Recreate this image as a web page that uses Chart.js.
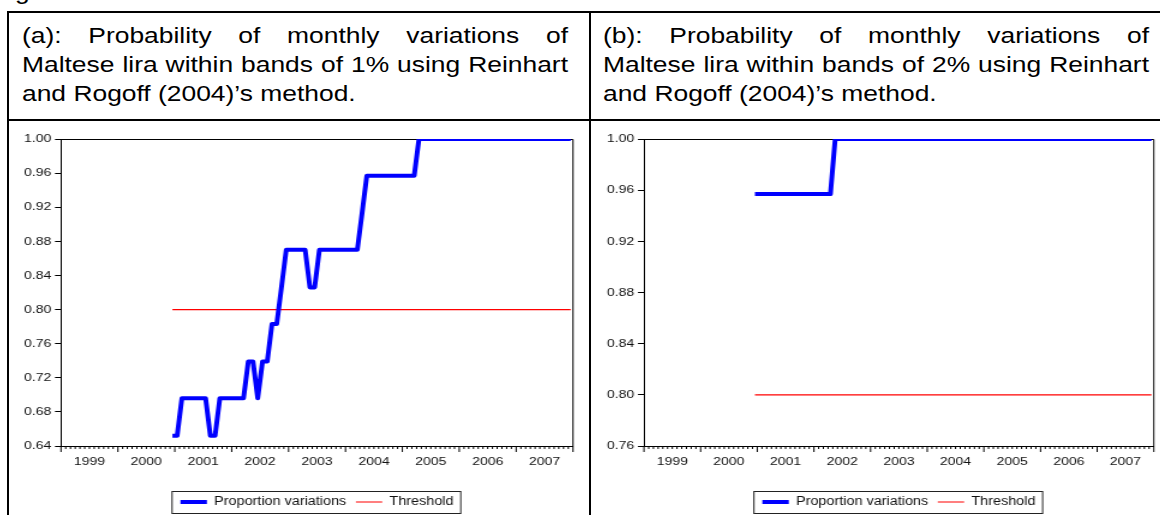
<!DOCTYPE html>
<html>
<head>
<meta charset="utf-8">
<script src="https://cdn.jsdelivr.net/npm/chart.js@4.4.1/dist/chart.umd.min.js"></script>
<style>
html,body{margin:0;padding:0;width:1160px;height:515px;overflow:hidden;background:#fff;font-family:"Liberation Sans",Arial,sans-serif;}
.abs{position:absolute;}
#frame{left:7px;top:11px;width:1200px;height:600px;border:2px solid #000;box-sizing:border-box;}
#hline{left:7px;top:119px;width:1200px;height:2px;background:#000;}
#vline{left:589px;top:11px;width:2px;height:600px;background:#000;}
.title{font-size:22px;line-height:29px;color:#000;transform:scaleX(1.2);transform-origin:0 0;width:455px;}
.j{text-align:justify;text-align-last:justify;}
.l{text-align:left;}
canvas{position:absolute;}
</style>
</head>
<body>
<div class="abs title" style="left:-7px;top:-23px;">Figure</div>
<div id="frame" class="abs"></div>
<div id="hline" class="abs"></div>
<div id="vline" class="abs"></div>
<div class="abs title" style="left:22px;top:21px;">
  <div class="j">(a): Probability of monthly variations of</div>
  <div class="j">Maltese lira within bands of 1% using Reinhart</div>
  <div class="l">and Rogoff (2004)’s method.</div>
</div>
<div class="abs title" style="left:603px;top:21px;">
  <div class="j">(b): Probability of monthly variations of</div>
  <div class="j">Maltese lira within bands of 2% using Reinhart</div>
  <div class="l">and Rogoff (2004)’s method.</div>
</div>
<canvas id="ca" width="483" height="420" style="left:9px;top:121px;width:580px;height:420px;"></canvas>
<canvas id="cb" width="483" height="420" style="left:591px;top:121px;width:580px;height:420px;"></canvas>
<script>
// ---- data (monthly, 2000M12 .. 2007M12) ----
const firstYear = 2000, firstMonth = 12;
const seriesNames = ['Proportion variations', 'Threshold'];
const yearLabels = ['1999','2000','2001','2002','2003','2004','2005','2006','2007'];

const propA = [
  0.652,                                                             // 2000 Dec
  0.652,0.696,0.696,0.696,0.696,0.696,0.696,0.652,0.652,0.696,0.696,0.696, // 2001
  0.696,0.696,0.696,0.739,0.739,0.696,0.739,0.739,0.783,0.783,0.826,0.870, // 2002
  0.870,0.870,0.870,0.870,0.826,0.826,0.870,0.870,0.870,0.870,0.870,0.870, // 2003
  0.870,0.870,0.870,0.913,0.957,0.957,0.957,0.957,0.957,0.957,0.957,0.957, // 2004
  0.957,0.957,0.957,1.000,1.000,1.000,1.000,1.000,1.000,1.000,1.000,1.000, // 2005
  1.000,1.000,1.000,1.000,1.000,1.000,1.000,1.000,1.000,1.000,1.000,1.000, // 2006
  1.000,1.000,1.000,1.000,1.000,1.000,1.000,1.000,1.000,1.000,1.000,1.000  // 2007
];
const propB = [
  0.957,                                                             // 2000 Dec
  0.957,0.957,0.957,0.957,0.957,0.957,0.957,0.957,0.957,0.957,0.957,0.957, // 2001
  0.957,0.957,0.957,0.957,1.000,1.000,1.000,1.000,1.000,1.000,1.000,1.000, // 2002
  1.000,1.000,1.000,1.000,1.000,1.000,1.000,1.000,1.000,1.000,1.000,1.000, // 2003
  1.000,1.000,1.000,1.000,1.000,1.000,1.000,1.000,1.000,1.000,1.000,1.000, // 2004
  1.000,1.000,1.000,1.000,1.000,1.000,1.000,1.000,1.000,1.000,1.000,1.000, // 2005
  1.000,1.000,1.000,1.000,1.000,1.000,1.000,1.000,1.000,1.000,1.000,1.000, // 2006
  1.000,1.000,1.000,1.000,1.000,1.000,1.000,1.000,1.000,1.000,1.000,1.000  // 2007
];
const thresholdA = propA.map(() => 0.80);
const thresholdB = propB.map(() => 0.80);

const yTicksA = [0.64,0.68,0.72,0.76,0.80,0.84,0.88,0.92,0.96,1.00];
const yLabelsA = ['0.64','0.68','0.72','0.76','0.80','0.84','0.88','0.92','0.96','1.00'];
const yTicksB = [0.76,0.80,0.84,0.88,0.92,0.96,1.00];
const yLabelsB = ['0.76','0.80','0.84','0.88','0.92','0.96','1.00'];

// month centre positions in decimal years
const monthX = propA.map((_, i) => {
  const k = firstYear * 12 + (firstMonth - 1) + i;
  return Math.floor(k / 12) + ((k % 12) + 0.5) / 12;
});

const FONT = '"Liberation Sans", Arial, sans-serif';
const TXT = '#111';

const framePlugin = {
  id: 'frame',
  beforeDatasetsDraw(chart) {
    const {ctx, chartArea: a} = chart;
    ctx.save();
    ctx.strokeStyle = '#000';
    ctx.lineWidth = 1;
    ctx.beginPath();
    ctx.moveTo(a.left, a.top + 0.5);
    ctx.lineTo(a.right, a.top + 0.5);
    ctx.lineTo(a.right, a.bottom);
    ctx.stroke();
    // month / year tick marks under the date axis
    const xs = chart.scales.x;
    ctx.beginPath();
    for (let m = 0; m <= 108; m++) {
      const px = xs.getPixelForValue(1999 + m / 12);
      const len = (m % 12 === 0) ? 6 : 3;
      ctx.moveTo(px, a.bottom);
      ctx.lineTo(px, a.bottom + len);
    }
    ctx.stroke();
    ctx.restore();
  }
};

const legendBoxPlugin = {
  id: 'legendBox',
  afterDraw(chart) {
    const lg = chart.legend;
    if (!lg || !lg.legendHitBoxes || !lg.legendHitBoxes.length) return;
    const hb = lg.legendHitBoxes;
    const first = hb[0], last = hb[hb.length - 1];
    const cy = first.top + first.height / 2;
    const ctx = chart.ctx;
    ctx.save();
    ctx.strokeStyle = '#222';
    ctx.lineWidth = 1;
    ctx.strokeRect(first.left - 7, Math.round(cy - 11) + 0.5, (last.left + last.width + 6) - (first.left - 7), 22);
    ctx.restore();
  }
};

function makeChart(id, prop, thr, yMin, yTicks, yLabels, yWidth, padRight, thrWidth) {
  return new Chart(document.getElementById(id), {
    type: 'line',
    data: {
      datasets: [
        { label: seriesNames[0], data: monthX.map((x, i) => ({x, y: prop[i]})),
          borderColor: '#0000FF', backgroundColor: '#0000FF', borderWidth: 4,
          pointRadius: 0, tension: 0, fill: false, borderJoinStyle: 'round' },
        { label: seriesNames[1], data: monthX.map((x, i) => ({x, y: thr[i]})),
          borderColor: '#FF0000', backgroundColor: '#FF0000', borderWidth: thrWidth,
          pointRadius: 0, tension: 0, fill: false }
      ]
    },
    options: {
      responsive: false,
      devicePixelRatio: 1,
      animation: false,
      events: [],
      layout: { padding: { left: 0, right: padRight, top: 18, bottom: 23 } },
      plugins: {
        tooltip: { enabled: false },
        legend: {
          display: true, position: 'bottom', fullSize: false,
          labels: {
            usePointStyle: true, pointStyle: 'line', pointStyleWidth: 22,
            boxHeight: 12, padding: 8, color: TXT,
            font: { family: FONT, size: 12 }
          }
        }
      },
      scales: {
        x: {
          type: 'linear', min: 1999, max: 2008,
          afterBuildTicks: s => { s.ticks = yearLabels.map((y, i) => ({value: 1999.5 + i})); },
          ticks: { callback: (v, i) => yearLabels[i], autoSkip: false, maxRotation: 0,
                   padding: 9, color: TXT, font: { family: FONT, size: 11.7 } },
          grid: { display: false, drawTicks: false, tickLength: 0 },
          border: { display: true, color: '#000', width: 1 },
          afterFit: s => { s.height = 42; }
        },
        y: {
          type: 'linear', min: yMin, max: 1.0,
          afterBuildTicks: s => { s.ticks = yTicks.map(v => ({value: v})); },
          ticks: { callback: (v, i) => yLabels[i], autoSkip: false, padding: 3,
                   color: TXT, font: { family: FONT, size: 11.7 } },
          grid: { drawOnChartArea: false, drawTicks: true, tickLength: 5, tickColor: '#000', tickWidth: 1 },
          border: { display: true, color: '#000', width: 1 },
          afterFit: s => { s.width = yWidth; }
        }
      }
    },
    plugins: [framePlugin, legendBoxPlugin]
  });
}

makeChart('ca', propA, thresholdA, 0.64, yTicksA, yLabelsA, 43.3, 13.3, 1.2);
makeChart('cb', propB, thresholdB, 0.76, yTicksB, yLabelsB, 44.1, 14.3, 1.2);
</script>
</body>
</html>
